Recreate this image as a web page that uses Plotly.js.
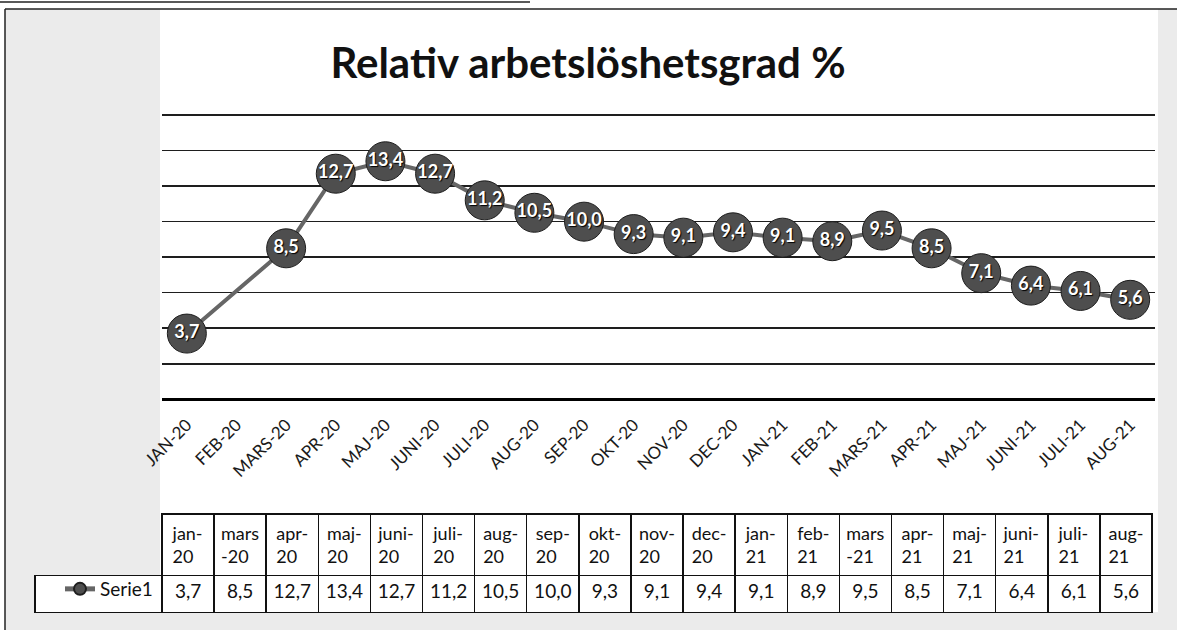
<!DOCTYPE html>
<html>
<head>
<meta charset="utf-8">
<script src="https://cdn.plot.ly/plotly-3.0.1.min.js"></script>
<style>
  html, body { margin: 0; padding: 0; background: #ffffff; }
  #chart { width: 1177px; height: 630px; }
</style>
</head>
<body>
<div id="chart"></div>
<script>
// ---- data ----
const axisLabels = ['JAN-20','FEB-20','MARS-20','APR-20','MAJ-20','JUNI-20','JULI-20','AUG-20','SEP-20','OKT-20',
                    'NOV-20','DEC-20','JAN-21','FEB-21','MARS-21','APR-21','MAJ-21','JUNI-21','JULI-21','AUG-21'];
const values = [3.7, null, 8.5, 12.7, 13.4, 12.7, 11.2, 10.5, 10.0, 9.3,
                9.1, 9.4, 9.1, 8.9, 9.5, 8.5, 7.1, 6.4, 6.1, 5.6];
const tableHeaders = ['jan-<br>20','mars<br>-20','apr-<br>20','maj-<br>20','juni-<br>20','juli-<br>20','aug-<br>20',
                      'sep-<br>20','okt-<br>20','nov-<br>20','dec-<br>20','jan-<br>21','feb-<br>21','mars<br>-21',
                      'apr-<br>21','maj-<br>21','juni-<br>21','juli-<br>21','aug-<br>21'];
const seriesName = 'Serie1';
const chartTitle = 'Relativ arbetslöshetsgrad %';

// ---- derived ----
const W = 1177, H = 630;
const px = v => v / W;
const py = v => 1 - v / H;
const fmt = v => v.toFixed(1).replace('.', ',');
const tableValues = values.filter(v => v !== null);

const FONT = 'Lato, "Open Sans", sans-serif';

const lineTrace = {
  type: 'scatter',
  x: axisLabels,
  y: values,
  mode: 'lines+markers',
  connectgaps: true,
  name: seriesName,
  line: { color: '#666666', width: 4 },
  marker: { size: 39, color: '#4e4e4e', line: { color: '#1e1e1e', width: 1 } },
  hoverinfo: 'skip',
  showlegend: true
};

const labelTrace = {
  type: 'scatter',
  x: axisLabels,
  y: values,
  mode: 'text',
  texttemplate: '<b>%{y:.1f}</b>',
  textposition: 'middle center',
  textfont: { family: FONT, size: 18, color: '#ffffff', shadow: '1px 1px 1px #000000' },
  hoverinfo: 'skip',
  showlegend: false
};

// table: leading legend column, 19 month columns, thin empty trailing column so the right border is drawn
const N = tableHeaders.length;
const TRANSPARENT = 'rgba(0,0,0,0)';
const tableTrace = {
  type: 'table',
  domain: { x: [px(35), px(1158)], y: [py(620), py(514)] },
  columnwidth: [127].concat(tableHeaders.map(() => 52.1), [6]),
  header: {
    values: [''].concat(tableHeaders, ['']),
    height: 56,
    align: 'center',
    font: { family: FONT, size: 18, color: '#111111' },
    fill: { color: [TRANSPARENT].concat(tableHeaders.map(() => '#ffffff'), [TRANSPARENT]) },
    line: { color: [TRANSPARENT].concat(tableHeaders.map(() => '#111111'), [TRANSPARENT]), width: 1.5 }
  },
  cells: {
    values: [['']].concat(tableValues.map(v => [fmt(v)]), [['']]),
    height: 37,
    align: 'center',
    font: { family: FONT, size: 19, color: '#111111' },
    fill: { color: ['#ffffff'].concat(tableValues.map(() => '#ffffff'), [TRANSPARENT]) },
    line: { color: ['#111111'].concat(tableValues.map(() => '#111111'), [TRANSPARENT]), width: 1.5 }
  }
};

const GREY = '#ebebeb';
const shapes = [
  // scanned-paper grey margins
  { type: 'rect', xref: 'paper', yref: 'paper', x0: px(5), x1: px(160), y0: 0, y1: py(9),
    fillcolor: GREY, line: { width: 0 }, layer: 'below' },
  { type: 'rect', xref: 'paper', yref: 'paper', x0: px(1158), x1: 1, y0: 0, y1: py(9),
    fillcolor: GREY, line: { width: 0 }, layer: 'below' },
  { type: 'rect', xref: 'paper', yref: 'paper', x0: px(5), x1: 1, y0: 0, y1: py(612),
    fillcolor: GREY, line: { width: 0 }, layer: 'below' },
  // frame
  { type: 'line', xref: 'paper', yref: 'paper', x0: px(5), x1: 1, y0: py(9), y1: py(9),
    line: { color: '#222222', width: 1.5 } },
  { type: 'line', xref: 'paper', yref: 'paper', x0: px(5), x1: px(5), y0: 0, y1: py(9),
    line: { color: '#222222', width: 1.5 } },
  { type: 'line', xref: 'paper', yref: 'paper', x0: 0, x1: px(530), y0: py(2), y1: py(2),
    line: { color: '#222222', width: 1.5 } }
];

const layout = {
  width: W, height: H, autosize: false,
  margin: { l: 0, r: 0, t: 0, b: 0, pad: 0 },
  paper_bgcolor: '#ffffff',
  plot_bgcolor: '#ffffff',
  separators: ', ',
  font: { family: FONT, color: '#111111' },
  title: {
    text: '<b>' + chartTitle + '</b>',
    x: px(588), xanchor: 'center', xref: 'paper',
    y: py(63), yanchor: 'middle', yref: 'paper',
    font: { family: FONT, size: 42, color: '#111111' }
  },
  xaxis: {
    domain: [px(162), px(1155)],
    type: 'category',
    range: [-0.5, 19.5],
    showgrid: false, zeroline: false, showline: false,
    tickangle: -45,
    ticks: 'outside', ticklen: 8, tickcolor: 'rgba(0,0,0,0)',
    tickfont: { family: FONT, size: 17, color: '#1a1a1a' },
    fixedrange: true
  },
  yaxis: {
    domain: [py(399.3), py(113.3)],
    range: [0, 16.1],
    dtick: 2,
    showticklabels: false,
    showgrid: true, gridcolor: '#1e1e1e', gridwidth: 1.5,
    zeroline: true, zerolinecolor: '#000000', zerolinewidth: 3.5,
    showline: false, ticks: '',
    fixedrange: true
  },
  showlegend: true,
  legend: {
    x: px(60), y: py(589), xanchor: 'left', yanchor: 'middle',
    bgcolor: 'rgba(0,0,0,0)', borderwidth: 0,
    itemsizing: 'constant',
    font: { family: FONT, size: 19, color: '#111111' }
  },
  shapes: shapes
};

Plotly.newPlot('chart', [tableTrace, lineTrace, labelTrace], layout, { staticPlot: true, displayModeBar: false });
</script>
</body>
</html>
